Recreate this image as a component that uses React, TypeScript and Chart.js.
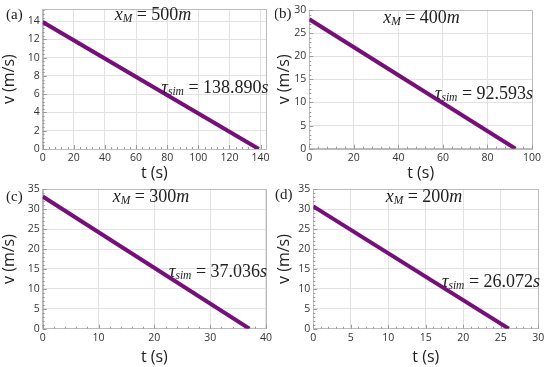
import React, { useEffect, useRef } from "react";
import { Chart, registerables } from "chart.js";

Chart.register(...registerables);

// ---- data ----
const panelLabels = ["(a)", "(b)", "(c)", "(d)"];
const xMValues = ["500", "400", "300", "200"];
const tauValues = ["138.890", "92.593", "37.036", "26.072"];
const startVelocities = [13.9, 28.0, 33.2, 30.7];
const endTimes = [138.89, 92.593, 37.036, 26.072];
const xMaxValues = [143.5, 100, 40, 30];
const yMaxValues = [15.3, 30, 35, 35];
const xSteps = [20, 20, 10, 5];
const ySteps = [2, 5, 5, 5];

// ---- layout (pixels) ----
const panels = [
  { left: 0, top: 0, w: 275, h: 184, caL: 42.7, caR: 266, caT: 7, caB: 149, xm: [153, 15], tau: [215, 88], lab: [6, 15], tb: 1 },
  { left: 275, top: 0, w: 275, h: 184, caL: 34.3, caR: 257, caT: 10, caB: 148.7, xm: [146.5, 18], tau: [209, 94], lab: [-1, 14], tb: 1 },
  { left: 0, top: 180, w: 275, h: 187, caL: 42.7, caR: 266, caT: 9, caB: 148.7, xm: [151, 17], tau: [218, 92], lab: [6, 17], tb: 0 },
  { left: 275, top: 180, w: 275, h: 187, caL: 38.3, caR: 263.3, caT: 9, caB: 148.7, xm: [149, 17], tau: [216, 102], lab: [0, 15], tb: 0 },
];

const LINE_COLOR = "#760f79";
const SERIF = "'Liberation Serif', 'DejaVu Serif', serif";
const SANS = "'Open Sans', 'DejaVu Sans', sans-serif";

type Seg = { t: string; italic?: boolean; size: number; dy?: number };

function drawRich(ctx: CanvasRenderingContext2D, segs: Seg[], cx: number, cy: number) {
  ctx.save();
  ctx.textBaseline = "middle";
  ctx.textAlign = "left";
  let total = 0;
  const widths: number[] = [];
  for (const s of segs) {
    ctx.font = `${s.italic ? "italic " : ""}${s.size}px ${SERIF}`;
    const w = ctx.measureText(s.t).width;
    widths.push(w);
    total += w;
  }
  let x = cx - total / 2;
  ctx.fillStyle = "#222";
  segs.forEach((s, i) => {
    ctx.font = `${s.italic ? "italic " : ""}${s.size}px ${SERIF}`;
    ctx.fillText(s.t, x, cy + (s.dy || 0));
    x += widths[i];
  });
  ctx.restore();
}

function Panel({ idx }: { idx: number }) {
  const ref = useRef<HTMLCanvasElement | null>(null);
  useEffect(() => {
    const p = panels[idx];
    const canvas = ref.current!;
    const textPlugin = {
      id: "texts" + idx,
      beforeDatasetsDraw(chart: any) {
        const ctx = chart.ctx as CanvasRenderingContext2D;
        const xs = chart.scales.x;
        const ys = chart.scales.y;
        const ca = chart.chartArea;
        ctx.save();
        ctx.strokeStyle = "#bbb";
        ctx.lineWidth = 1;
        ctx.strokeRect(Math.round(ca.left) + 0.5, Math.round(ca.top) + 0.5, Math.round(ca.right - ca.left), Math.round(ca.bottom - ca.top));
        ctx.strokeStyle = "#999";
        const xm = xSteps[idx] / 5;
        for (let v = 0; v <= xMaxValues[idx] + 1e-9; v += xm) {
          const px = Math.round(xs.getPixelForValue(v)) + 0.5;
          const isMajor = Math.abs(v / xSteps[idx] - Math.round(v / xSteps[idx])) < 1e-6;
          ctx.beginPath();
          ctx.moveTo(px, ca.bottom);
          ctx.lineTo(px, ca.bottom - (isMajor ? 4 : 2));
          ctx.stroke();
        }
        const ym = ySteps[idx] / 5;
        for (let v = 0; v <= yMaxValues[idx] + 1e-9; v += ym) {
          const py = Math.round(ys.getPixelForValue(v)) + 0.5;
          const isMajor = Math.abs(v / ySteps[idx] - Math.round(v / ySteps[idx])) < 1e-6;
          ctx.beginPath();
          ctx.moveTo(ca.left, py);
          ctx.lineTo(ca.left + (isMajor ? 4 : 2), py);
          ctx.stroke();
        }
        ctx.restore();
      },
      afterDraw(chart: any) {
        const ctx = chart.ctx as CanvasRenderingContext2D;
        ctx.save();
        ctx.font = `15px ${SERIF}`;
        ctx.fillStyle = "#222";
        ctx.textBaseline = "middle";
        ctx.textAlign = "left";
        ctx.fillText(panelLabels[idx], p.lab[0], p.lab[1]);
        ctx.restore();
        drawRich(
          ctx,
          [
            { t: "x", italic: true, size: 18 },
            { t: "M", italic: true, size: 11.5, dy: 4 },
            { t: " = " + xMValues[idx], size: 18 },
            { t: "m", italic: true, size: 18 },
          ],
          p.xm[0],
          p.xm[1]
        );
        drawRich(
          ctx,
          [
            { t: "τ", italic: true, size: 18 },
            { t: "sim", italic: true, size: 11.5, dy: 4 },
            { t: " = " + tauValues[idx], size: 18 },
            { t: "s", italic: true, size: 18 },
          ],
          p.tau[0],
          p.tau[1]
        );
      },
    };

    const chart = new Chart(canvas, {
      type: "scatter",
      data: {
        datasets: [
          {
            data: [
              { x: 0, y: startVelocities[idx] },
              { x: endTimes[idx], y: 0 },
            ],
            showLine: true,
            borderColor: LINE_COLOR,
            backgroundColor: LINE_COLOR,
            borderWidth: 4,
            pointRadius: 0,
            borderCapStyle: "butt",
          },
        ],
      },
      options: {
        animation: false,
        responsive: false,
        devicePixelRatio: 1,
        layout: { padding: { left: 0, right: p.w - p.caR, top: p.caT, bottom: 0 } },
        plugins: { legend: { display: false }, tooltip: { enabled: false } },
        scales: {
          x: {
            type: "linear",
            min: 0,
            max: xMaxValues[idx],
            afterFit: (s: any) => {
              s.height = p.h - p.caB;
            },
            border: { color: "#bbb" },
            grid: { color: "#e2e2e2", drawTicks: false },
            ticks: {
              stepSize: xSteps[idx],
              includeBounds: false,
              padding: 3,
              color: "#333",
              font: { family: SANS, size: 10.5 },
              maxRotation: 0,
            },
            title: {
              display: true,
              text: "t (s)",
              color: "#222",
              font: { family: SANS, size: 16 },
              padding: { top: 2, bottom: p.tb },
            },
          },
          y: {
            type: "linear",
            min: 0,
            max: yMaxValues[idx],
            afterFit: (s: any) => {
              s.width = p.caL;
            },
            border: { color: "#bbb" },
            grid: { color: "#e2e2e2", drawTicks: false },
            ticks: {
              stepSize: ySteps[idx],
              includeBounds: false,
              padding: 3,
              color: "#333",
              font: { family: SANS, size: 10.5 },
            },
            title: {
              display: true,
              text: "v (m/s)",
              color: "#222",
              font: { family: SANS, size: 16 },
              padding: { top: 0, bottom: 0 },
            },
          },
        },
      },
      plugins: [textPlugin],
    } as any);
    return () => chart.destroy();
  }, [idx]);

  const p = panels[idx];
  return (
    <canvas
      ref={ref}
      width={p.w}
      height={p.h}
      style={{ position: "absolute", left: p.left, top: p.top, width: p.w, height: p.h }}
    />
  );
}

export default function App() {
  return (
    <div style={{ position: "fixed", left: 0, top: 0, width: 550, height: 367, background: "#fff", overflow: "hidden" }}>
      {[0, 1, 2, 3].map((i) => (
        <Panel key={i} idx={i} />
      ))}
    </div>
  );
}
